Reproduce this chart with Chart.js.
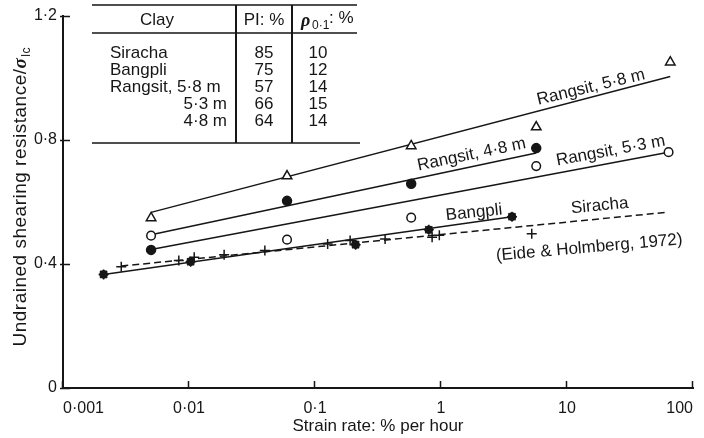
<!DOCTYPE html>
<html>
<head>
<meta charset="utf-8">
<script src="https://cdn.jsdelivr.net/npm/chart.js@4.4.1/dist/chart.umd.min.js"></script>
<style>
  html, body { margin: 0; padding: 0; background: #fff; }
  #wrap { width: 704px; height: 438px; }
</style>
</head>
<body>
<div id="wrap"><canvas id="StrainRateChart"></canvas></div>
<script>
// strain rate in % per hour, shearing resistance as ratio to sigma_lc
const rate58 = [0.005, 0.06, 0.58, 5.7, 66];
const tau58 = [0.548, 0.683, 0.780, 0.841, 1.050];
const rate48 = [0.005, 0.06, 0.58, 5.7];
const tau48 = [0.445, 0.603, 0.658, 0.773];
const rate53 = [0.005, 0.06, 0.58, 5.7, 64];
const tau53 = [0.491, 0.478, 0.549, 0.715, 0.760];
const rateBangpli = [0.0021, 0.0103, 0.21, 0.80, 3.66];
const tauBangpli = [0.366, 0.407, 0.462, 0.510, 0.552];
const rateSiracha = [0.0029, 0.0083, 0.011, 0.019, 0.040, 0.126, 0.19, 0.36, 0.85, 0.97, 5.25];
const tauSiracha = [0.391, 0.411, 0.421, 0.429, 0.443, 0.464, 0.475, 0.480, 0.486, 0.492, 0.497];

// fitted lines (end points)
const fitRate58 = [0.005, 66];
const fitTau58 = [0.566, 1.004];
const fitRate48 = [0.005, 5.7];
const fitTau48 = [0.494, 0.757];
const fitRate53 = [0.005, 64];
const fitTau53 = [0.446, 0.760];
const fitRateBangpli = [0.0021, 3.66];
const fitTauBangpli = [0.366, 0.552];
const fitRateSiracha = [0.0029, 61];
const fitTauSiracha = [0.393, 0.566];

const xTicks = [0.001, 0.01, 0.1, 1, 10, 100];
const yTicks = [0, 0.4, 0.8, 1.2];

const lineLabels = ["Rangsit, 5·8 m", "Rangsit, 4·8 m", "Rangsit, 5·3 m", "Bangpli", "Siracha", "(Eide & Holmberg, 1972)"];

// inset table
const clayNames = ["Siracha", "Bangpli", "Rangsit, 5·8 m", "5·3 m", "4·8 m"];
const clayPI = [85, 75, 57, 66, 64];
const clayRho = [10, 12, 14, 15, 14];

const INK = "#161616";
const FONT = "'Liberation Sans', Arial, sans-serif";

function pts(xs, ys) {
    return xs.map((v, i) => ({ x: v, y: ys[i] }));
}
function dot(v) {
    return String(v).replace(".", "·");
}

const overlay = {
    id: "overlay",
    afterDraw(chart, args, opts) {
        const ctx = chart.ctx;
        const a = chart.chartArea;
        const x = chart.scales.x;
        const y = chart.scales.y;
        ctx.save();
        ctx.strokeStyle = INK;
        ctx.fillStyle = INK;

        // inward ticks
        ctx.lineWidth = 1.5;
        ctx.beginPath();
        x.ticks.forEach(t => {
            const px = Math.round(x.getPixelForValue(t.value)) - 0.5;
            ctx.moveTo(px, a.bottom);
            ctx.lineTo(px, a.bottom - 7);
        });
        y.ticks.forEach(t => {
            const py = Math.round(y.getPixelForValue(t.value)) + 0.5;
            ctx.moveTo(a.left - 3, py);
            ctx.lineTo(a.left + 7, py);
        });
        ctx.stroke();

        // labels along the lines
        ctx.font = "17px " + FONT;
        ctx.textAlign = "center";
        ctx.textBaseline = "middle";
        opts.labels.forEach((l, i) => {
            ctx.save();
            ctx.translate(x.getPixelForValue(l.x), y.getPixelForValue(l.y));
            ctx.rotate(l.angle * Math.PI / 180);
            ctx.fillText(lineLabels[i], 0, 0);
            ctx.restore();
        });

        // y axis title with subscript
        const t1 = "Undrained shearing resistance/";
        ctx.textAlign = "left";
        ctx.textBaseline = "alphabetic";
        ctx.letterSpacing = "0.5px";
        ctx.font = "19px " + FONT;
        const w1 = ctx.measureText(t1).width;
        ctx.font = "italic bold 19px 'Liberation Serif', serif";
        const w2 = ctx.measureText("σ").width;
        ctx.font = "12px " + FONT;
        const w3 = ctx.measureText("lc").width;
        const total = w1 + w2 + 1 + w3;
        ctx.save();
        ctx.translate(26, (a.top + a.bottom) / 2 - 5);
        ctx.rotate(-Math.PI / 2);
        let sx = -total / 2;
        ctx.font = "19px " + FONT;
        ctx.fillText(t1, sx, 0);
        sx += w1;
        ctx.font = "italic bold 19px 'Liberation Serif', serif";
        ctx.fillText("σ", sx, 0);
        sx += w2 + 1;
        ctx.font = "12px " + FONT;
        ctx.fillText("lc", sx, 4);
        ctx.restore();
        ctx.letterSpacing = "0px";

        // table
        const tb = opts.table;
        ctx.lineWidth = 1.6;
        ctx.beginPath();
        ctx.moveTo(tb.left, tb.top); ctx.lineTo(tb.right, tb.top);
        ctx.moveTo(tb.left, tb.head); ctx.lineTo(tb.right, tb.head);
        ctx.moveTo(tb.left, tb.bottom); ctx.lineTo(tb.right + 3, tb.bottom);
        ctx.stroke();
        ctx.lineWidth = 2;
        ctx.beginPath();
        ctx.moveTo(tb.col1, tb.top); ctx.lineTo(tb.col1, tb.bottom);
        ctx.moveTo(tb.col2, tb.top); ctx.lineTo(tb.col2, tb.bottom);
        ctx.stroke();

        ctx.font = "17px " + FONT;
        ctx.textBaseline = "middle";
        ctx.textAlign = "center";
        ctx.fillText("Clay", 157, tb.headY);
        ctx.fillText("PI: %", 264, tb.headY);
        ctx.textAlign = "left";
        ctx.font = "italic bold 18px 'Liberation Serif', serif";
        ctx.fillText("ρ", 301, tb.headY + 1);
        ctx.font = "12px " + FONT;
        ctx.fillText("0·1", 312, tb.headY + 6);
        ctx.font = "17px " + FONT;
        ctx.fillText(": %", 329, tb.headY - 2);

        clayNames.forEach((name, i) => {
            const ry = tb.row0 + i * tb.rowStep;
            ctx.textAlign = i < 3 ? "left" : "right";
            ctx.fillText(name, i < 3 ? 110 : 227, ry);
            ctx.textAlign = "center";
            ctx.fillText(String(clayPI[i]), 264, ry);
            ctx.fillText(String(clayRho[i]), 318, ry);
        });
        ctx.restore();
    }
};

function CreateChart() {
    const ctx = document.getElementById("StrainRateChart");
    Chart.defaults.font.family = FONT;
    Chart.defaults.font.size = 16;
    Chart.defaults.color = INK;

    const marker = { showLine: false, borderColor: INK, pointBorderWidth: 1.5 };
    const fit = { showLine: true, pointRadius: 0, borderColor: INK, borderWidth: 1.5, fill: false };

    new Chart(ctx, {
        type: "scatter",
        data: {
            datasets: [
                Object.assign({ label: "Rangsit 5.8 m", data: pts(rate58, tau58), pointStyle: "triangle", pointRadius: 5.5, pointBackgroundColor: "#fff" }, marker),
                Object.assign({ label: "Rangsit 4.8 m", data: pts(rate48, tau48), pointStyle: "circle", pointRadius: 4.5, pointBackgroundColor: INK }, marker),
                Object.assign({ label: "Rangsit 5.3 m", data: pts(rate53, tau53), pointStyle: "circle", pointRadius: 4.3, pointBackgroundColor: "#fff" }, marker),
                Object.assign({ label: "Bangpli", data: pts(rateBangpli, tauBangpli), pointStyle: "circle", pointRadius: 3.6, pointBackgroundColor: INK }, marker),
                Object.assign({ label: "Bangpli star", data: pts(rateBangpli, tauBangpli), pointStyle: "star", pointRadius: 5, pointBorderWidth: 1.6 }, marker),
                Object.assign({ label: "Siracha", data: pts(rateSiracha, tauSiracha), pointStyle: "cross", pointRadius: 5, pointBorderWidth: 1.3 }, marker),
                Object.assign({ label: "fit 5.8", data: pts(fitRate58, fitTau58) }, fit),
                Object.assign({ label: "fit 4.8", data: pts(fitRate48, fitTau48) }, fit),
                Object.assign({ label: "fit 5.3", data: pts(fitRate53, fitTau53) }, fit),
                Object.assign({ label: "fit Bangpli", data: pts(fitRateBangpli, fitTauBangpli) }, fit),
                Object.assign({ label: "fit Siracha", data: pts(fitRateSiracha, fitTauSiracha), borderDash: [7, 4] }, fit),
            ]
        },
        options: {
            responsive: true,
            maintainAspectRatio: false,
            animation: false,
            layout: { padding: { left: 0, right: 4, top: 14, bottom: 0 } },
            plugins: {
                legend: { display: false },
                tooltip: { enabled: false },
                overlay: {
                    labels: [
                        { x: 15.5, y: 0.969, angle: -13.5 },
                        { x: 1.75, y: 0.752, angle: -11.8 },
                        { x: 22.2, y: 0.764, angle: -10.5 },
                        { x: 1.83, y: 0.565, angle: -6 },
                        { x: 18.2, y: 0.587, angle: -5.5 },
                        { x: 15.0, y: 0.452, angle: -5 }
                    ],
                    table: { left: 92, right: 357, top: 5, head: 33, bottom: 143, col1: 236, col2: 292, headY: 20, row0: 53, rowStep: 17 }
                }
            },
            scales: {
                x: {
                    type: "logarithmic",
                    min: 0.001,
                    max: 100,
                    afterBuildTicks: scale => { scale.ticks = xTicks.map(v => ({ value: v })); },
                    afterFit: scale => { scale.height = 50; },
                    grid: { display: false, drawTicks: false },
                    border: { display: true, color: INK, width: 2 },
                    ticks: { callback: v => dot(v), padding: 11, align: "inner", maxRotation: 0, autoSkip: false, font: { size: 16 } },
                    title: { display: true, text: "Strain rate: % per hour", font: { size: 17 }, padding: { top: 0, bottom: 1 } }
                },
                y: {
                    min: 0,
                    max: 1.2,
                    afterBuildTicks: scale => { scale.ticks = yTicks.map(v => ({ value: v })); },
                    afterFit: scale => { scale.width = 63; },
                    grid: { display: false, drawTicks: false },
                    border: { display: true, color: INK, width: 2 },
                    ticks: { callback: v => dot(v), padding: 6, font: { size: 16 } }
                }
            }
        },
        plugins: [overlay]
    });
}

CreateChart();
</script>
</body>
</html>
